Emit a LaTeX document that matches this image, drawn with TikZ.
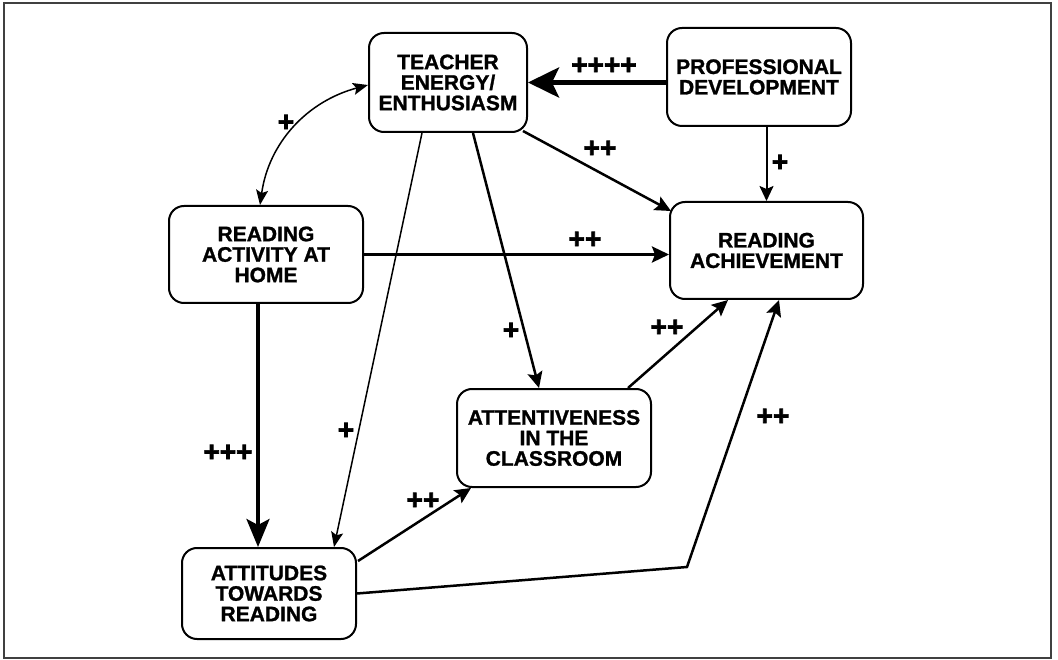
\documentclass[tikz,border=0pt]{standalone}
\usepackage{fontspec}
\setmainfont{Liberation Sans}
\newfontfamily\boxfont{Liberation Sans Bold}[FakeBold=1.2]
\newfontfamily\plusfont{Liberation Sans Bold}[FakeBold=2.5]
\usetikzlibrary{arrows.meta,calc}

\tikzset{
  box/.style={draw, line width=2pt, rounded corners=15pt, align=center,
    inner sep=0pt, font=\boxfont\fontsize{21}{20.5}\selectfont},
  sign/.style={inner sep=0pt, font=\plusfont\fontsize{28}{28}\selectfont},
  conn/.style={line width=2.5pt, -{Stealth[length=16pt,width=15pt,inset=3pt]}},
  thinconn/.style={line width=1.5pt, -{Stealth[length=15pt,width=12pt,inset=3pt]}},
  heavyconn/.style={line width=3.5pt, -{Stealth[length=28pt,width=23pt,inset=6pt]}},
  hugeconn/.style={line width=5pt, -{Stealth[length=31pt,width=30pt,inset=7pt]}},
}

\begin{document}
\begin{tikzpicture}[x=1pt, y=-1pt]
\useasboundingbox (0,0) rectangle (1058,660);
% outer frame
\draw[line width=1.5pt, black!75] (4,3) rectangle (1051,658);

% boxes
\node[box, minimum width=158pt, minimum height=99pt] (t) at (448,82.5)
  {TEACHER\\ENERGY/\\ENTHUSIASM};
\node[box, minimum width=184pt, minimum height=98pt] (pd) at (759,77)
  {PROFESSIONAL\\DEVELOPMENT};
\node[box, minimum width=193pt, minimum height=97pt] (ach) at (766.5,250.5)
  {READING\\ACHIEVEMENT};
\node[box, minimum width=194pt, minimum height=97pt] (ra) at (266,254.5)
  {READING\\ACTIVITY AT\\HOME};
\node[box, minimum width=174pt, minimum height=91pt] (att) at (269,593.5)
  {ATTITUDES\\TOWARDS\\READING};
\node[box, minimum width=194pt, minimum height=98pt] (cls) at (554,438)
  {ATTENTIVENESS\\IN THE\\CLASSROOM};

% bend point of the attitudes-to-achievement path
\coordinate (bend) at (687,567);

% connectors
\draw[hugeconn] (pd.west |- t.east) -- (t.east);
\draw[line width=1.5pt, {Stealth[length=15pt,width=12pt,inset=3pt]}-{Stealth[length=15pt,width=12pt,inset=3pt]}]
  ($(t.west)+(0,2.5)$) to[out=195, in=82] ($(ra.north)+(-6,0)$);
\draw[conn] ($(t.south east)+(-5,-2)$) -- ($(ach.north west)+(2,10)$);
\draw[line width=2pt, -{Stealth[length=15pt,width=14pt,inset=3pt]}] (ach.north |- pd.south) -- (ach.north);
\draw[line width=3pt, -{Stealth[length=17pt,width=16pt,inset=3pt]}] (ra.east) -- (ach.west |- ra.east);
\draw[thinconn] ($(t.south)+(-26,0)$) -- ($(att.north)+(65,0)$);
\draw[conn] ($(t.south)+(25,0)$) -- ($(cls.north)+(-15,0)$);
\draw[conn] ($(cls.north)+(74,0)$) -- ($(ach.south)+(-38.5,0)$);
\draw[conn] ($(att.north east)+(1,14)$) -- ($(cls.south west)+(15,0)$);
\draw[conn] (att.east) -- (bend) -- ($(ach.south)+(12.5,0)$);
\draw[heavyconn] ($(ra.south)+(-8,0)$) -- ($(att.north)+(-11,0)$);

% signs
\node[sign] (s1) at (604,66) {++++};
\node[sign] (s2) at (286,123) {+};
\node[sign] (s3) at (600,149) {++};
\node[sign] (s4) at (780,163) {+};
\node[sign] (s5) at (585,240) {++};
\node[sign] (s6) at (346,431) {+};
\node[sign] (s7) at (511,331) {+};
\node[sign] (s8) at (667,328) {++};
\node[sign] (s9) at (423,501) {++};
\node[sign] (s10) at (773,417) {++};
\node[sign] (s11) at (228,453) {+++};
\end{tikzpicture}
\end{document}
